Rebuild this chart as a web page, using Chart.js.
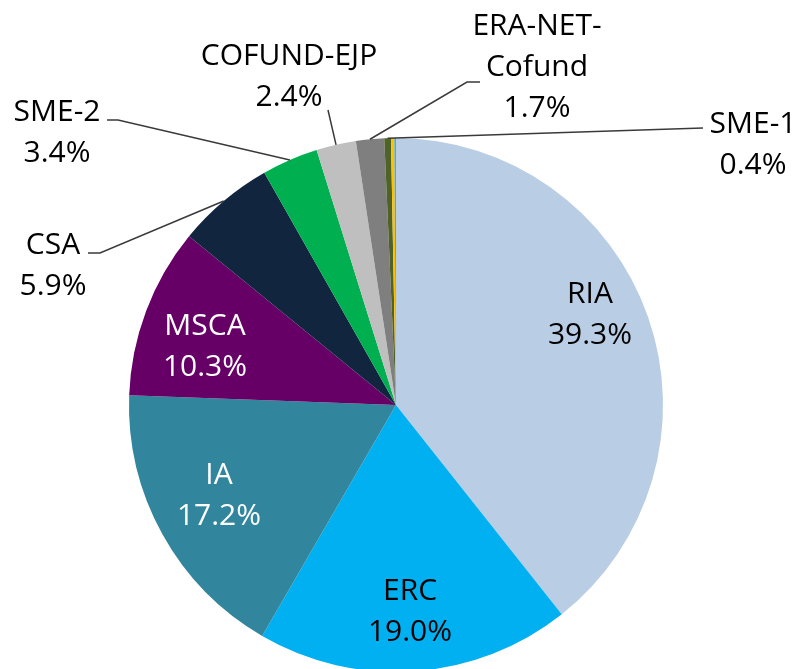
<!DOCTYPE html>
<html>
<head>
<meta charset="utf-8">
<script src="https://cdn.jsdelivr.net/npm/chart.js@4.4.0/dist/chart.umd.min.js"></script>
<style>
  html, body { margin: 0; padding: 0; background: #fff; overflow: hidden; }
  #wrap { position: absolute; left: 0; top: 0; width: 803px; height: 675px; }
</style>
</head>
<body>
<div id="wrap"><canvas id="myChart" width="803" height="675"></canvas></div>
<script>
// data (share of budget, %)
const categories = ["RIA", "ERC", "IA", "MSCA", "CSA", "SME-2", "COFUND-EJP", "ERA-NET-Cofund", "SME-1", "", ""];
const shares = [39.3, 19.0, 17.2, 10.3, 5.9, 3.4, 2.4, 1.7, 0.4, 0.2, 0.1];
const sliceColors = ["#b9cde5", "#00b0f0", "#31859c", "#660066", "#12253f", "#00b050", "#bfbfbf", "#7f7f7f", "#4f6228", "#ffc000", "#4bacc6"];

// label placement (layout only)
const inside = {
  "RIA": { x: 590, y: 315, color: "#000" },
  "ERC": { x: 410, y: 612, color: "#000" },
  "IA": { x: 219, y: 496, color: "#fff" },
  "MSCA": { x: 205, y: 347, color: "#fff" },
};
const outside = {
  "CSA": { x: 53, y: 266, leader: [[100, 253], [88, 253]] },
  "SME-2": { x: 57, y: 133, leader: [[118, 120], [107, 120]] },
  "COFUND-EJP": { x: 289, y: 77, leader: [[328, 110]] },
  "ERA-NET-Cofund": { x: 537, y: 67, lines: ["ERA-NET-", "Cofund"], leader: [[467, 82], [480, 82]] },
  "SME-1": { x: 753, y: 145, leader: [[703, 128]] },
};
const lineH = 41;

function drawBlock(ctx, lines, x, y, color) {
  ctx.fillStyle = color;
  const top = y - (lines.length - 1) * lineH / 2;
  lines.forEach((t, k) => ctx.fillText(t, x, top + k * lineH));
}

const labelPlugin = {
  id: "pieLabels",
  afterDatasetsDraw(chart) {
    const ctx = chart.ctx;
    const meta = chart.getDatasetMeta(0);
    ctx.save();
    ctx.font = "30px 'Open Sans', sans-serif";
    ctx.textAlign = "center";
    ctx.textBaseline = "middle";
    meta.data.forEach((arc, i) => {
      const name = categories[i];
      if (!name) return;
      const pct = shares[i].toFixed(1) + "%";
      if (inside[name]) {
        const p = inside[name];
        drawBlock(ctx, [name, pct], p.x, p.y, p.color);
        return;
      }
      const o = outside[name];
      if (!o) return;
      const a = arc.getProps(["x", "y", "startAngle", "endAngle", "outerRadius"], true);
      const mid = (a.startAngle + a.endAngle) / 2;
      ctx.strokeStyle = "#3a3a3a";
      ctx.lineWidth = 1.5;
      ctx.beginPath();
      ctx.moveTo(a.x + Math.cos(mid) * a.outerRadius, a.y + Math.sin(mid) * a.outerRadius);
      o.leader.forEach((pt) => ctx.lineTo(pt[0], pt[1]));
      ctx.stroke();
      drawBlock(ctx, (o.lines || [name]).concat([pct]), o.x, o.y, "#000");
    });
    ctx.restore();
  },
};

const ctx = document.getElementById("myChart");
const myChart = new Chart(ctx, {
  type: "pie",
  data: {
    labels: categories,
    datasets: [
      {
        data: shares,
        backgroundColor: sliceColors,
        borderWidth: 0,
      },
    ],
  },
  options: {
    responsive: false,
    animation: false,
    devicePixelRatio: 1,
    layout: {
      padding: { top: 138, bottom: 3, left: 129, right: 140 },
    },
    plugins: {
      legend: { display: false },
      tooltip: { enabled: false },
    },
  },
  plugins: [labelPlugin],
});
</script>
</body>
</html>
